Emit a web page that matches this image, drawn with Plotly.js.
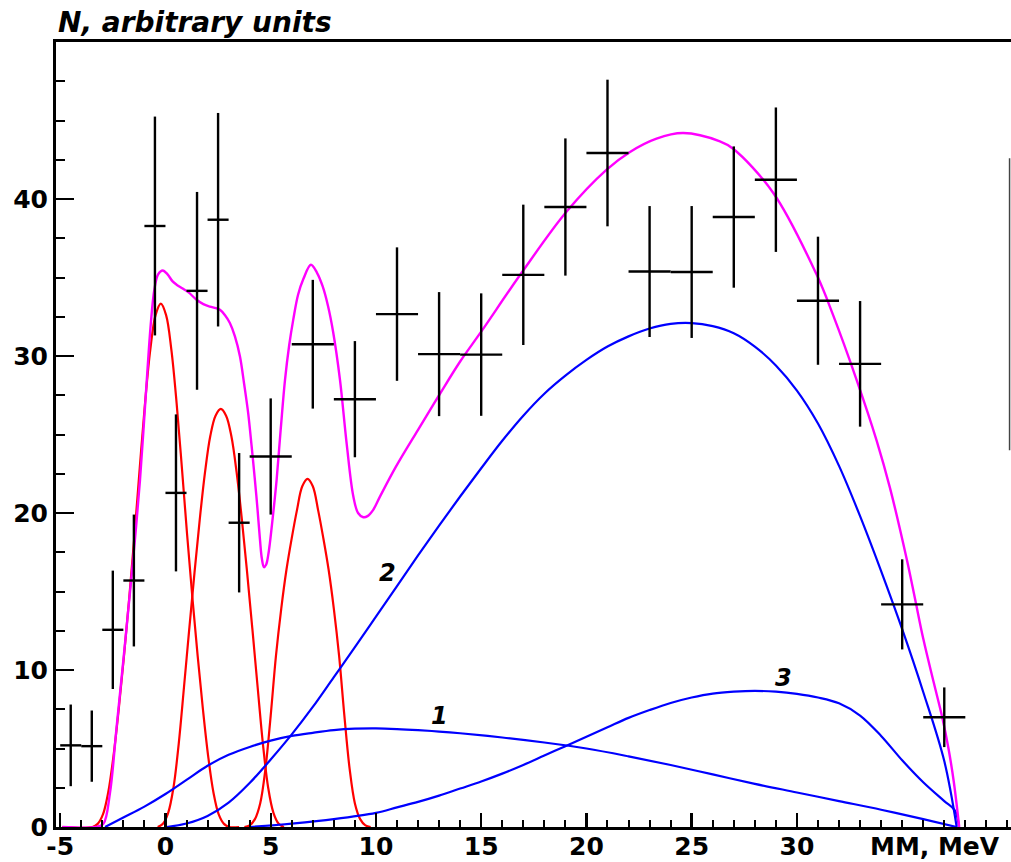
<!DOCTYPE html>
<html>
<head>
<meta charset="utf-8">
<script src="https://cdn.plot.ly/plotly-3.0.1.min.js"></script>
<style>html,body{margin:0;padding:0;background:#fff;}#chart{width:1011px;height:862px;}</style>
</head>
<body>
<div id="chart"></div>
<script>
// ---- Data points (MM, MeV) with errors ----
const dataX  = [-4.5,-3.5,-2.5,-1.5,-0.5,0.5,1.5,2.5,3.5,5,7,9,11,13,15,17,19,21,23,25,27,29,31,33,35,37];
const dataY  = [5.2,5.15,12.56,15.7,38.28,21.28,34.15,38.68,19.38,23.6,30.75,27.25,32.67,30.12,30.09,35.17,39.49,42.93,35.38,35.35,38.85,41.23,33.52,29.5,14.18,6.99];
const dataEY = [2.6,2.27,3.77,4.2,6.97,5.0,6.3,6.8,4.44,3.7,4.1,3.7,4.25,3.95,3.9,4.47,4.37,4.67,4.17,4.2,4.5,4.6,4.08,4.0,2.87,1.9];
const dataEX = [0.5,0.5,0.5,0.5,0.5,0.5,0.5,0.5,0.5,1,1,1,1,1,1,1,1,1,1,1,1,1,1,1,1,1];

// ---- Red peaks ----
const peak1X = [-4.9,-3.47,-3.22,-2.97,-2.72,-2.47,-2.22,-1.97,-1.72,-1.47,-1.22,-0.97,-0.72,-0.47,-0.22,0.03,0.28,0.53,0.78,1.03,1.28,1.53,1.78,2.03,2.28,2.53,2.78,3.03,3.5];
const peak1Y = [0,0,0.2,0.8,2.2,4.5,7.5,10.9,14.6,18.6,22.9,27.0,30.4,32.6,33.33,32.6,30.4,27.0,22.9,18.6,14.6,10.9,7.5,4.5,2.2,0.8,0.2,0,0];
const peak2X = [-0.37,-0.12,0.13,0.38,0.63,0.88,1.13,1.38,1.63,1.88,2.13,2.38,2.63,2.88,3.13,3.38,3.63,3.88,4.13,4.38,4.63,4.88,5.13,5.38,5.63];
const peak2Y = [0,0.2,0.9,2.5,5.3,8.9,12.6,16.2,19.6,22.6,24.9,26.2,26.63,26.2,24.9,22.6,19.6,16.2,12.6,8.9,5.3,2.5,0.9,0.2,0];
const peak3X = [3.75,4.0,4.25,4.5,4.75,5.0,5.25,5.5,5.75,6.0,6.25,6.5,6.75,7.0,7.25,7.5,7.75,8.0,8.25,8.5,8.75,9.0,9.25,9.5,9.75];
const peak3Y = [0,0.1,0.5,1.5,3.7,7.1,10.9,13.9,16.4,18.4,20.2,21.7,22.17,21.7,20.2,18.4,16.4,13.9,10.9,7.1,3.7,1.5,0.5,0.1,0];

// ---- Blue components ----
const comp1X = [-2.87,-2,-1,0,1,2,3,4,5,6,7,8,9,10,11,12,13,14,16,18,20,22,24,26,28,30,32,34,36,37.59];
const comp1Y = [0,0.6,1.3,2.1,3.0,3.9,4.6,5.1,5.5,5.8,6.0,6.17,6.26,6.28,6.24,6.17,6.08,5.97,5.7,5.38,5.0,4.5,3.95,3.35,2.75,2.2,1.65,1.1,0.5,0];
const comp2X = [0.06,1,2,3,4,5,6,7,8,9,10,11,12,13,14,15,16,17,18,19,20,21,22,23,24,25,26,27,28,29,30,31,32,33,34,35,36,37,37.59];
const comp2Y = [0,0.22,0.7,1.55,2.8,4.3,5.9,7.65,9.55,11.45,13.4,15.35,17.3,19.2,21.05,22.85,24.6,26.2,27.6,28.75,29.75,30.6,31.25,31.75,32.05,32.1,31.9,31.45,30.6,29.4,27.8,25.7,23.0,19.8,16.3,12.6,8.6,4.2,0];
const comp3X = [4,6,8,10,11,12,13,14,15,16,17,18,19,20,21,22,23,24,25,26,27,28,29,30,31,32,33,34,35,36,37,37.5,37.7];
const comp3Y = [0,0.22,0.5,0.9,1.25,1.6,2.0,2.45,2.9,3.4,3.95,4.55,5.15,5.75,6.35,6.95,7.45,7.9,8.25,8.5,8.62,8.67,8.62,8.48,8.25,7.88,7.1,5.8,4.25,2.85,1.65,1.06,0];

// ---- Total fit (magenta) ----
const totalX = [-4.9,-3.3,-2.95,-2.64,-2.32,-2.0,-1.69,-1.45,-1.21,-0.89,-0.7,-0.53,-0.35,-0.13,0.1,0.34,0.53,0.82,1.1,1.48,1.8,2.11,2.4,2.59,2.83,3.06,3.3,3.54,3.74,3.93,4.09,4.25,4.37,4.49,4.58,4.68,4.78,4.88,4.96,5.12,5.28,5.48,5.68,5.88,6.07,6.3,6.55,6.91,7.2,7.47,7.72,7.97,8.29,8.61,8.92,9.15,9.4,9.6,9.87,10.19,10.95,12.0,13.0,14.0,15.0,16.92,19.06,20.96,22.07,23.33,24.6,26.34,26.97,28.87,30.93,31.72,32.83,33.79,34.42,35.21,35.6,36.0,36.5,36.9,37.2,37.45,37.71];
const totalY = [0,0,0.2,2.13,6.38,10.63,14.88,18.3,22.1,28.4,32.0,34.2,35.2,35.45,35.2,34.75,34.54,34.3,34.05,33.58,33.3,33.15,33.05,32.94,32.6,32.1,31.25,29.97,28.2,26.36,24.3,22.1,20.3,18.3,17.1,16.55,16.7,17.3,18.07,20.0,22.1,25.4,28.48,30.7,32.3,33.9,34.9,35.81,35.3,34.43,33.2,31.5,28.5,24.4,21.1,20.0,19.73,19.8,20.2,21.04,22.95,25.3,27.5,29.65,31.55,35.3,39.2,41.87,43.0,43.85,44.2,43.67,43.2,40.4,35.2,32.6,28.5,24.6,21.6,17.1,14.6,12.0,9.2,7.0,5.0,2.9,0];

// ---- Axis ticks / labels ----
const xTickVals = [-5,0,5,10,15,20,25,30];
const xTickText = ['-5','0','5','10','15','20','25','30'];
const yTickVals = [0,10,20,30,40];
const yTickText = ['0','10','20','30','40'];
const curveLabels = [{t:'1', x:13.0, y:7.06},{t:'2', x:10.55, y:16.17},{t:'3', x:29.38, y:9.51}];

const lineT = (x, y, color, w) => ({x, y, type:'scatter', mode:'lines', hoverinfo:'skip',
  line:{color, width:w, shape:'spline', smoothing:1}, showlegend:false});

const traces = [
  lineT(peak1X, peak1Y, '#ff0000', 2.2),
  lineT(peak2X, peak2Y, '#ff0000', 2.2),
  lineT(peak3X, peak3Y, '#ff0000', 2.2),
  lineT(comp1X, comp1Y, '#0000ff', 2.2),
  lineT(comp2X, comp2Y, '#0000ff', 2.2),
  lineT(comp3X, comp3Y, '#0000ff', 2.2),
  lineT(totalX, totalY, '#ff00ff', 2.4),
  {x:dataX, y:dataY, type:'scatter', mode:'markers', showlegend:false, hoverinfo:'skip',
   marker:{size:1, color:'rgba(0,0,0,0)'},
   error_y:{type:'data', array:dataEY, visible:true, color:'#000', thickness:2.4, width:0},
   error_x:{type:'data', array:dataEX, visible:true, color:'#000', thickness:2.4, width:0}}
];

const fontFam = '"DejaVu Sans", Arial, sans-serif';
const annotations = curveLabels.map(c => ({x:c.x, y:c.y, xref:'x', yref:'y', text:'<b><i>'+c.t+'</i></b>',
  showarrow:false, font:{family:fontFam, size:24, color:'#000'}}));
annotations.push({x:0, y:1, xref:'paper', yref:'paper', xanchor:'left', yanchor:'bottom', yshift:1, xshift:0,
  text:'<b><i>N, arbitrary units</i></b>', showarrow:false, font:{family:fontFam, size:28, color:'#000'}});
annotations.push({x:(1002-56)/955, y:0, xref:'paper', yref:'paper', showarrow:false, text:'<b>MM, MeV</b>',
  font:{family:fontFam, size:25, color:'#000'}, xanchor:'right', yanchor:'middle', yshift:-19});

const layout = {
  width:1011, height:862,
  margin:{l:56, r:0, t:42, b:35, pad:0},
  paper_bgcolor:'#fff', plot_bgcolor:'#fff',
  showlegend:false,
  xaxis:{range:[-5.2,40.17], showgrid:false, zeroline:false, showline:true, linecolor:'#000', linewidth:3,
    mirror:true, ticks:'inside', ticklen:14, tickwidth:2.4, tickcolor:'#000', ticklabelstandoff:-5,
    tickvals:xTickVals, ticktext:xTickText, tickfont:{family:fontFam, size:25, color:'#000', weight:'bold'},
    minor:{dtick:1, tick0:0, ticks:'inside', ticklen:7, tickwidth:2, tickcolor:'#000', showgrid:false}},
  yaxis:{range:[0,50], showgrid:false, zeroline:false, showline:true, linecolor:'#000', linewidth:3,
    ticks:'inside', ticklen:18, tickwidth:2.4, tickcolor:'#000',
    tickvals:yTickVals, ticktext:yTickText, tickfont:{family:fontFam, size:25, color:'#000', weight:'bold'},
    minor:{dtick:2.5, tick0:0, ticks:'inside', ticklen:9, tickwidth:2, tickcolor:'#000', showgrid:false}},
  annotations,
  shapes:[{type:'line', xref:'paper', yref:'y', x0:0.9985, x1:0.9985, y0:24.0, y1:42.6,
    line:{color:'#444', width:1.5}}]
};
Plotly.newPlot('chart', traces, layout, {displayModeBar:false, staticPlot:true});
</script>
</body>
</html>
